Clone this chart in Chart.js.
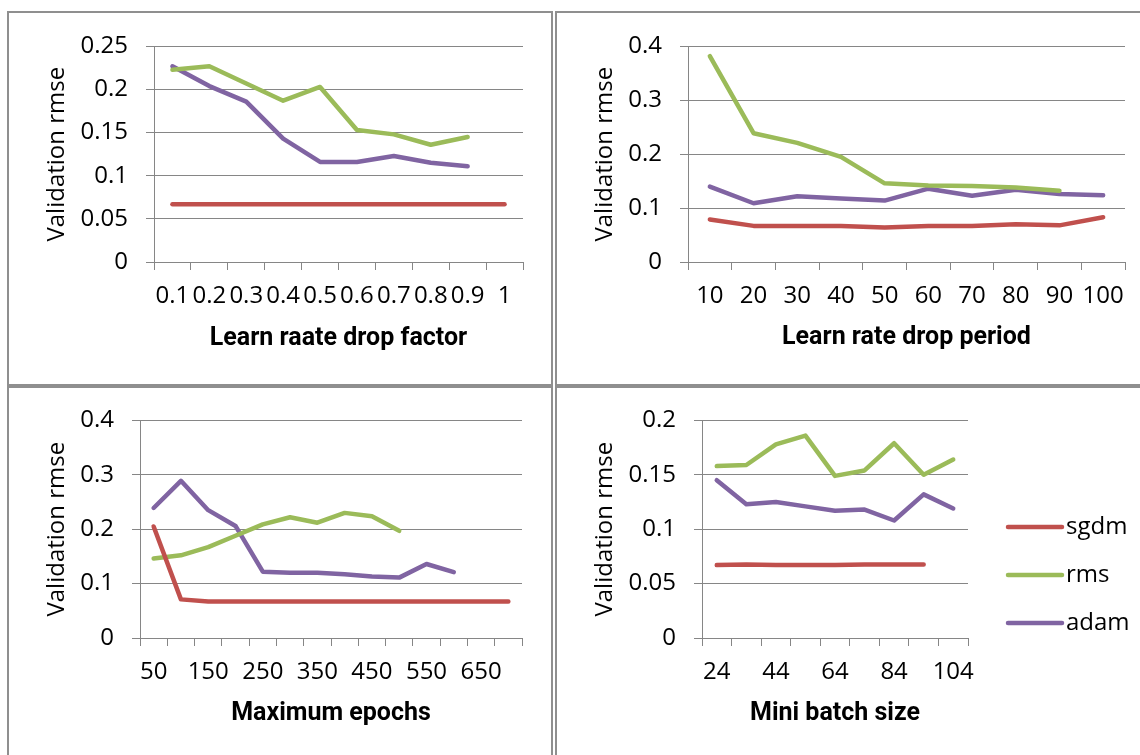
<!DOCTYPE html>
<html>
<head>
<meta charset="utf-8">
<script src="https://cdn.jsdelivr.net/npm/chart.js@4"></script>
<style>
  body { margin: 0; background: #fff; width: 1140px; height: 755px; overflow: hidden; position: relative; }
  .box { position: absolute; border: 2px solid #8f8f8f; box-sizing: border-box; }
  canvas { position: absolute; }
</style>
</head>
<body>
<div class="box" style="left:7px;top:11px;width:546px;height:375px"></div>
<div class="box" style="left:555px;top:11px;width:600px;height:375px"></div>
<div class="box" style="left:7px;top:386px;width:546px;height:380px"></div>
<div class="box" style="left:555px;top:386px;width:600px;height:380px"></div>

<canvas id="c1" width="542" height="370" style="left:9px;top:14px"></canvas>
<canvas id="c2" width="583" height="370" style="left:557px;top:14px"></canvas>
<canvas id="c3" width="542" height="367" style="left:9px;top:388px"></canvas>
<canvas id="c4" width="583" height="367" style="left:557px;top:388px"></canvas>

<script>
// data
const dropFactor = ['0.1', '0.2', '0.3', '0.4', '0.5', '0.6', '0.7', '0.8', '0.9', '1'];
const dropFactorSgdm = [0.067, 0.067, 0.067, 0.067, 0.067, 0.067, 0.067, 0.067, 0.067, 0.067];
const dropFactorRms = [0.223, 0.227, 0.207, 0.187, 0.203, 0.153, 0.148, 0.136, 0.145];
const dropFactorAdam = [0.227, 0.204, 0.186, 0.143, 0.116, 0.116, 0.123, 0.115, 0.111];

const dropPeriod = ['10', '20', '30', '40', '50', '60', '70', '80', '90', '100'];
const dropPeriodSgdm = [0.079, 0.067, 0.067, 0.067, 0.064, 0.067, 0.067, 0.070, 0.068, 0.083];
const dropPeriodRms = [0.382, 0.239, 0.221, 0.195, 0.146, 0.142, 0.141, 0.138, 0.132];
const dropPeriodAdam = [0.140, 0.109, 0.122, 0.118, 0.114, 0.136, 0.123, 0.134, 0.126, 0.124];

const epochs = ['50', '100', '150', '200', '250', '300', '350', '400', '450', '500', '550', '600', '650', '700'];
const epochsSgdm = [0.205, 0.071, 0.067, 0.067, 0.067, 0.067, 0.067, 0.067, 0.067, 0.067, 0.067, 0.067, 0.067, 0.067];
const epochsRms = [0.146, 0.152, 0.167, 0.188, 0.209, 0.222, 0.212, 0.230, 0.224, 0.197];
const epochsAdam = [0.239, 0.289, 0.235, 0.206, 0.122, 0.120, 0.120, 0.117, 0.113, 0.111, 0.136, 0.121];

const batchSize = ['24', '34', '44', '54', '64', '74', '84', '94', '104'];
const batchSgdm = [0.067, 0.0675, 0.067, 0.067, 0.067, 0.0675, 0.0675, 0.0675];
const batchRms = [0.158, 0.159, 0.178, 0.186, 0.149, 0.154, 0.179, 0.150, 0.164];
const batchAdam = [0.145, 0.123, 0.125, 0.121, 0.117, 0.118, 0.108, 0.132, 0.119];

const RED = '#c0504d', GREEN = '#9bbb59', PURPLE = '#8064a2', GRID = '#868686';
const FONT = 'Open Sans';
const TITLE_FONT = 'Roboto';

Chart.defaults.font.family = FONT;
Chart.defaults.color = '#000';

// legend on the right of the last chart
const sideLegend = {
    id: 'sideLegend',
    afterDraw(chart, args, opts) {
        const ctx = chart.ctx;
        const x0 = chart.chartArea.right + opts.gap;
        ctx.save();
        ctx.font = opts.size + 'px "' + FONT + '"';
        ctx.textBaseline = 'middle';
        chart.data.datasets.forEach((ds, i) => {
            const y = opts.top + i * opts.pitch;
            ctx.strokeStyle = ds.borderColor;
            ctx.lineWidth = 4.5;
            ctx.lineCap = 'round';
            ctx.beginPath();
            ctx.moveTo(x0, y);
            ctx.lineTo(x0 + opts.len, y);
            ctx.stroke();
            ctx.fillStyle = '#000';
            ctx.fillText(ds.label, x0 + opts.len + 4, y);
        });
        ctx.restore();
    }
};

function line(label, data, color) {
    return {
        label, data,
        borderColor: color, backgroundColor: color,
        borderWidth: 4.5, pointRadius: 0, tension: 0,
        borderJoinStyle: 'round', borderCapStyle: 'round'
    };
}

function panel(id, labels, sgdm, rms, adam, opt) {
    const plugins = opt.legend ? [sideLegend] : [];
    return new Chart(document.getElementById(id), {
        type: 'line',
        data: {
            labels,
            datasets: [line('sgdm', sgdm, RED), line('rms', rms, GREEN), line('adam', adam, PURPLE)]
        },
        plugins,
        options: {
            responsive: false,
            animation: false,
            events: [],
            layout: { padding: { left: 0, top: opt.top, right: opt.right, bottom: 0 } },
            plugins: {
                legend: { display: false },
                tooltip: { enabled: false },
                sideLegend: opt.legend || {}
            },
            scales: {
                x: {
                    offset: true,
                    grid: { offset: true, drawOnChartArea: false, tickLength: 8, color: GRID },
                    border: { color: GRID },
                    ticks: {
                        autoSkip: false, maxRotation: 0, minRotation: 0, padding: 12,
                        font: { size: 24 },
                        callback: function (v, i) {
                            return i % opt.every === 0 ? this.getLabelForValue(v) : '';
                        }
                    },
                    title: {
                        display: true, text: opt.xTitle,
                        font: { family: TITLE_FONT, size: 25, weight: 'bold' },
                        padding: { top: 0, bottom: opt.titleBottom }
                    },
                    afterFit: s => { s.height = opt.xHeight; }
                },
                y: {
                    min: 0, max: opt.yMax,
                    grid: { tickLength: 8, color: GRID },
                    border: { color: GRID },
                    ticks: {
                        stepSize: opt.step, padding: 18,
                        font: { size: 24 },
                        callback: v => String(Number(v.toFixed(2)))
                    },
                    title: {
                        display: true, text: 'Validation rmse',
                        font: { size: 24 },
                        padding: { top: 34, bottom: 0 }
                    },
                    afterFit: s => { s.width = opt.yWidth; }
                }
            }
        }
    });
}

panel('c1', dropFactor, dropFactorSgdm, dropFactorRms, dropFactorAdam, {
    yMax: 0.25, step: 0.05, xTitle: 'Learn raate drop factor', every: 1,
    top: 27, right: 28, yWidth: 145, xHeight: 122, titleBottom: 30
});
panel('c2', dropPeriod, dropPeriodSgdm, dropPeriodRms, dropPeriodAdam, {
    yMax: 0.4, step: 0.1, xTitle: 'Learn rate drop period', every: 1,
    top: 27, right: 15, yWidth: 131, xHeight: 122, titleBottom: 31
});
panel('c3', epochs, epochsSgdm, epochsRms, epochsAdam, {
    yMax: 0.4, step: 0.1, xTitle: 'Maximum epochs', every: 2,
    top: 29, right: 29, yWidth: 131, xHeight: 117, titleBottom: 26
});
panel('c4', batchSize, batchSgdm, batchRms, batchAdam, {
    yMax: 0.2, step: 0.05, xTitle: 'Mini batch size', every: 2,
    top: 29, right: 172, yWidth: 145, xHeight: 117, titleBottom: 26,
    legend: { gap: 40, len: 54, top: 139, pitch: 48, size: 24 }
});
</script>
</body>
</html>
